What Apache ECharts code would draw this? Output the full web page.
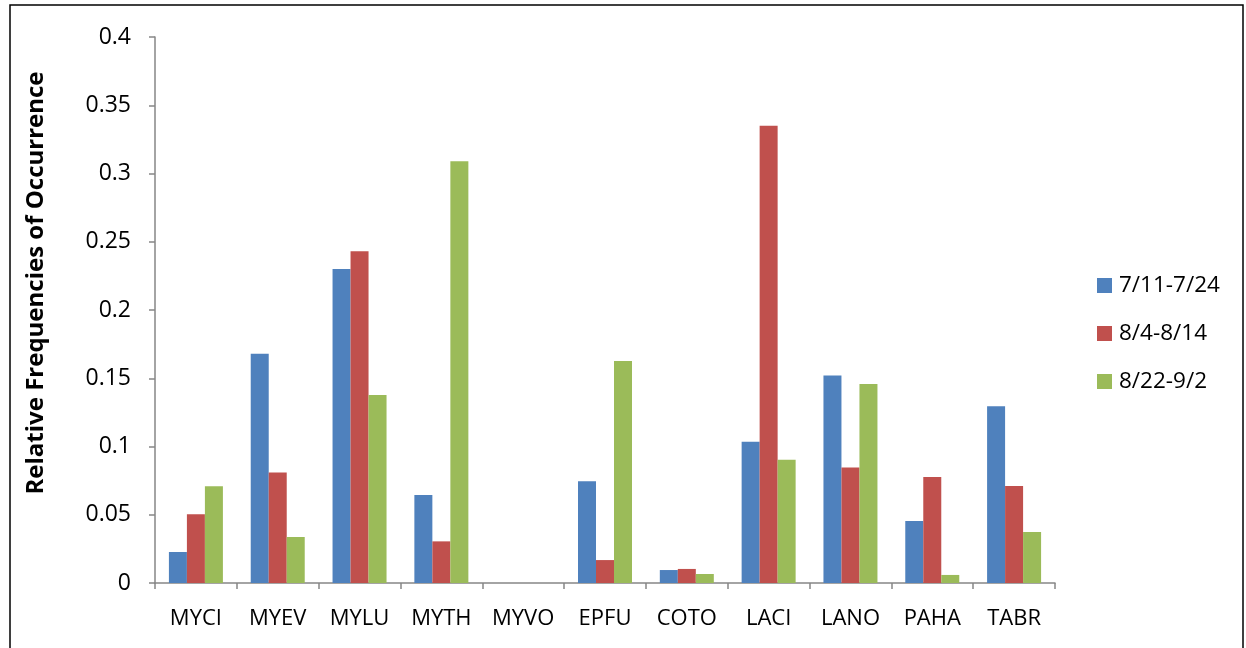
<!DOCTYPE html>
<html>
<head>
<meta charset="utf-8">
<script src="https://cdn.jsdelivr.net/npm/echarts@6/dist/echarts.min.js"></script>
<style>html,body{margin:0;padding:0;background:#fff}#c{width:1246px;height:648px}</style>
</head>
<body>
<div id="c"></div>
<script>
var categories = ['MYCI','MYEV','MYLU','MYTH','MYVO','EPFU','COTO','LACI','LANO','PAHA','TABR'];
var seriesNames = ['7/11-7/24','8/4-8/14','8/22-9/2'];
var s1 = [0.0227, 0.168, 0.230, 0.0645, 0, 0.0745, 0.0095, 0.1035, 0.152, 0.0454, 0.1294];
var s2 = [0.0504, 0.081, 0.243, 0.0305, 0, 0.0168, 0.0103, 0.335, 0.0847, 0.0777, 0.0711];
var s3 = [0.0708, 0.0337, 0.1377, 0.309, 0, 0.1626, 0.0066, 0.0903, 0.1458, 0.0059, 0.0374];
var yTitle = 'Relative Frequencies of Occurrence';
var colors = ['#4f81bd','#c0504d','#9bbb59'];
var font = '"Open Sans", Lato, sans-serif';

var chart = echarts.init(document.getElementById('c'), null, {renderer:'canvas'});
function mk(name, data, i){
  return {name:name, type:'bar', data:data, barGap:'0%', barCategoryGap:'34%',
    itemStyle:{color:colors[i]}};
}
chart.setOption({
  animation:false,
  graphic:[
    {type:'rect', shape:{x:10,y:5,width:1233,height:660}, style:{fill:'none', stroke:'#000', lineWidth:1.5}, z:-1},
    {type:'text', x:36, y:283, rotation:Math.PI/2,
      style:{text:yTitle, font:'bold 24px "Open Sans", sans-serif', fill:'#000', textAlign:'center', textVerticalAlign:'middle'}}
  ],
  grid:{left:155, right:191, top:37, bottom:65},
  legend:{orient:'vertical', left:1092, top:269, itemWidth:15, itemHeight:15, itemGap:25,
    icon:'rect', textStyle:{fontSize:22.5, lineHeight:23, fontFamily:font, color:'#000', padding:[0,0,0,2]},
    data:seriesNames},
  xAxis:{type:'category', data:categories, boundaryGap:true,
    axisLine:{lineStyle:{color:'#868686', width:1.5}},
    axisTick:{show:true, length:6, alignWithLabel:false, lineStyle:{color:'#868686', width:1.5}},
    axisLabel:{fontSize:22, fontFamily:font, color:'#000', margin:25}},
  yAxis:{type:'value', min:0, max:0.4, interval:0.05,
    splitLine:{show:false},
    axisLine:{show:true, lineStyle:{color:'#868686', width:1.5}},
    axisTick:{show:true, length:6, lineStyle:{color:'#868686', width:1.5}},
    axisLabel:{fontSize:23, fontFamily:font, color:'#000', margin:24,
      formatter:function(v){return String(parseFloat(v.toFixed(2)));}}},
  series:[mk(seriesNames[0], s1, 0), mk(seriesNames[1], s2, 1), mk(seriesNames[2], s3, 2)]
});
</script>
</body>
</html>
